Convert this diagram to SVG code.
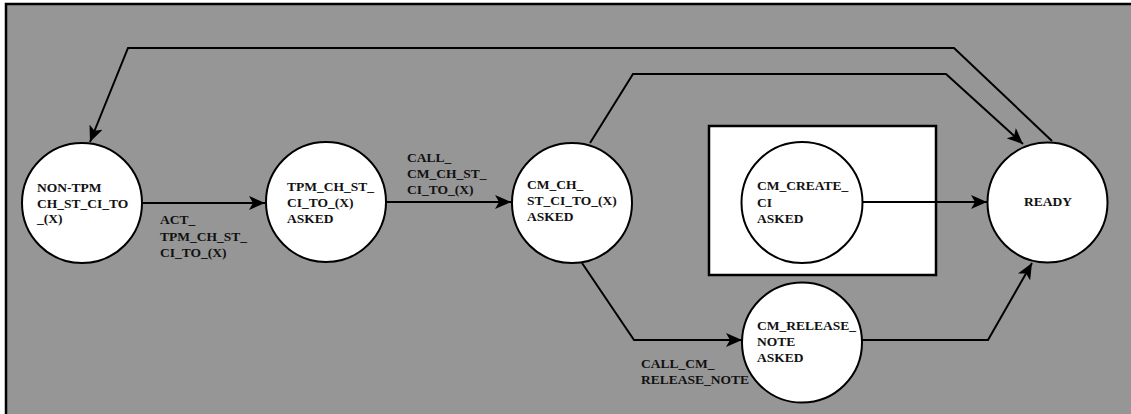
<svg xmlns="http://www.w3.org/2000/svg" width="1131" height="414" viewBox="0 0 1131 414">
<style>
.st{fill:#fff;stroke:#000;stroke-width:2}
.t{font-family:"Liberation Serif","Times New Roman","DejaVu Serif",serif;font-weight:bold;font-size:13.5px;fill:#111}
.c{fill:none;stroke:#000;stroke-width:2}
</style>
<defs>
<marker id="ah" markerUnits="userSpaceOnUse" markerWidth="18" markerHeight="14" refX="16" refY="7" orient="auto">
<path d="M0,0 L16,7 L0,14 L4,7 Z" fill="#000"/>
</marker>
</defs>
<rect x="6" y="4" width="1140" height="420" fill="#969696" stroke="#000" stroke-width="2.5"/>
<g id="group-box"><rect x="709" y="126" width="227" height="149" fill="#fff" stroke="#000" stroke-width="2.5"/></g>
<g id="connectors">
<polyline class="c" points="1052,141 954,48 128,48 90,142" marker-end="url(#ah)"/>
<line class="c" x1="143" y1="203" x2="265" y2="203" marker-end="url(#ah)"/>
<line class="c" x1="386" y1="202" x2="511" y2="202" marker-end="url(#ah)"/>
<polyline class="c" points="590,143 633,74 946,74 1023,144" marker-end="url(#ah)"/>
<line class="c" x1="862" y1="202" x2="987" y2="202" marker-end="url(#ah)"/>
<polyline class="c" points="582,263 634,340 742,340" marker-end="url(#ah)"/>
<polyline class="c" points="862,340 988,340 1032,263" marker-end="url(#ah)"/>
</g>
<g id="labels">
<text class="t"><tspan x="160" y="224">ACT_</tspan><tspan x="160" y="240.5">TPM_CH_ST_</tspan><tspan x="160" y="257">CI_TO_(X)</tspan></text>
<text class="t"><tspan x="407" y="162">CALL_</tspan><tspan x="407" y="178">CM_CH_ST_</tspan><tspan x="407" y="194">CI_TO_(X)</tspan></text>
<text class="t"><tspan x="641" y="368">CALL_CM_</tspan><tspan x="641" y="384">RELEASE_NOTE</tspan></text>
</g>
<g id="node-nontpm">
<circle class="st" cx="82" cy="203" r="60"/>
<text class="t"><tspan x="37" y="191.5">NON-TPM</tspan><tspan x="37" y="207.5">CH_ST_CI_TO</tspan><tspan x="37" y="223">_(X)</tspan></text>
</g>
<g id="node-tpm">
<circle class="st" cx="326" cy="202" r="60"/>
<text class="t"><tspan x="287" y="191">TPM_CH_ST_</tspan><tspan x="287" y="207">CI_TO_(X)</tspan><tspan x="287" y="222.5">ASKED</tspan></text>
</g>
<g id="node-cmch">
<circle class="st" cx="572" cy="203" r="60"/>
<text class="t"><tspan x="527" y="188.5">CM_CH_</tspan><tspan x="527" y="205">ST_CI_TO_(X)</tspan><tspan x="527" y="221">ASKED</tspan></text>
</g>
<g id="node-cmcreate">
<circle class="st" cx="802" cy="202.5" r="60.5"/>
<text class="t"><tspan x="757" y="190">CM_CREATE_</tspan><tspan x="757" y="206.5">CI</tspan><tspan x="757" y="222.5">ASKED</tspan></text>
</g>
<g id="node-ready">
<circle class="st" cx="1047.5" cy="202.5" r="60"/>
<text class="t" x="1024" y="206">READY</text>
</g>
<g id="node-cmrelease">
<circle class="st" cx="802" cy="342.5" r="60"/>
<text class="t"><tspan x="757" y="330">CM_RELEASE_</tspan><tspan x="757" y="346">NOTE</tspan><tspan x="757" y="362">ASKED</tspan></text>
</g>
</svg>
